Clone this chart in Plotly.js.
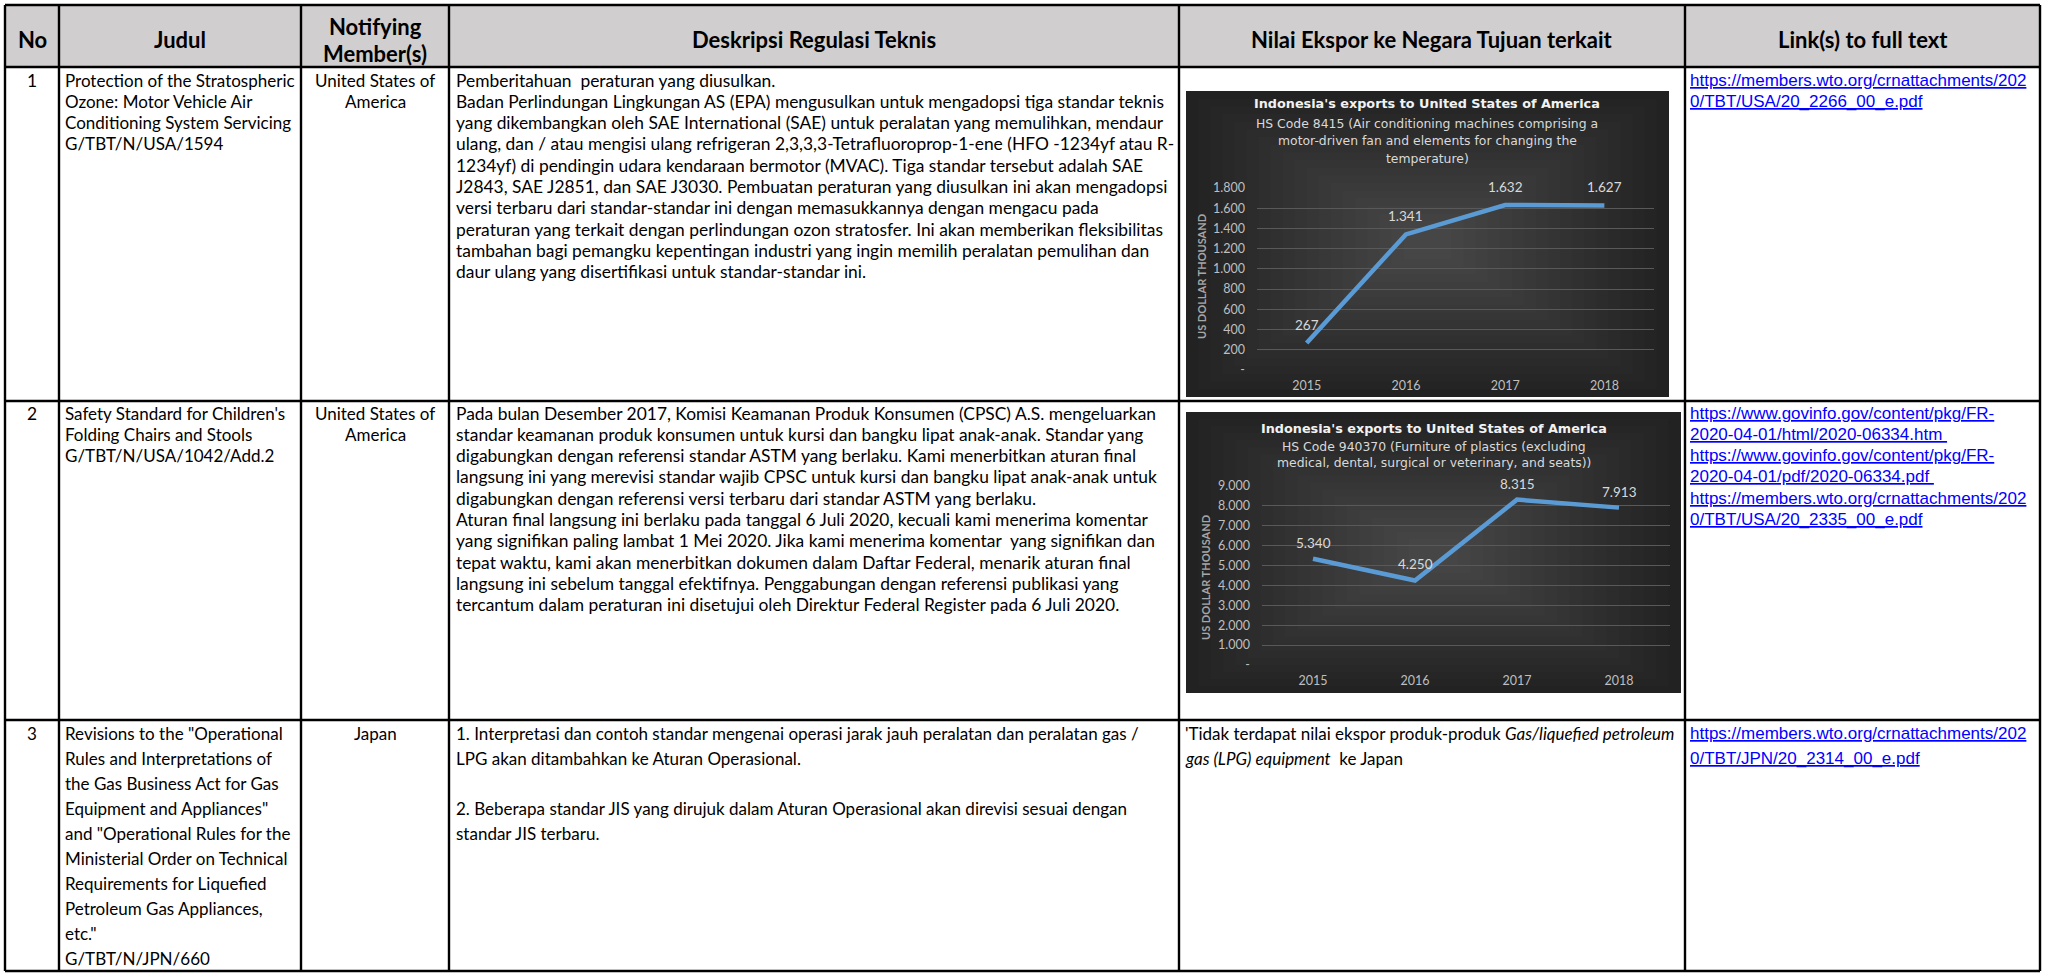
<!DOCTYPE html>
<html>
<head>
<meta charset="utf-8">
<script src="https://cdn.plot.ly/plotly-3.0.1.min.js"></script>
<style>
html,body{margin:0;padding:0;background:#ffffff;overflow:hidden}
#chart{width:2047px;height:973px}
</style>
</head>
<body>
<div id="chart"></div>
<script>
// ---------------- DATA ----------------
const years = ['2015', '2016', '2017', '2018'];
const exportsHS8415 = [267, 1341, 1632, 1627];
const exportsHS940370 = [5340, 4250, 8315, 7913];
const ticksHS8415 = [0, 200, 400, 600, 800, 1000, 1200, 1400, 1600, 1800];
const ticksHS940370 = [0, 1000, 2000, 3000, 4000, 5000, 6000, 7000, 8000, 9000];
const chartTitle = "Indonesia's exports to United States of America";
const subtitleHS8415 = [
  'HS Code 8415 (Air conditioning machines comprising a',
  'motor-driven fan and elements for changing the',
  'temperature)'
];
const subtitleHS940370 = [
  'HS Code 940370 (Furniture of plastics (excluding',
  'medical, dental, surgical or veterinary, and seats))'
];
const yAxisTitle = 'US DOLLAR THOUSAND';

const columnHeaders = [
  ['No'], ['Judul'], ['Notifying', 'Member(s)'],
  ['Deskripsi Regulasi Teknis'], ['Nilai Ekspor ke Negara Tujuan terkait'], ['Link(s) to full text']
];
const rowNumbers = ['1', '2', '3'];
const judul = [
  ['Protection of the Stratospheric', 'Ozone: Motor Vehicle Air', 'Conditioning System Servicing', 'G/TBT/N/USA/1594'],
  ["Safety Standard for Children's", 'Folding Chairs and Stools', 'G/TBT/N/USA/1042/Add.2'],
  ['Revisions to the "Operational', 'Rules and Interpretations of', 'the Gas Business Act for Gas',
   'Equipment and Appliances"', 'and "Operational Rules for the', 'Ministerial Order on Technical',
   'Requirements for Liquefied', 'Petroleum Gas Appliances,', 'etc."', 'G/TBT/N/JPN/660']
];
const notifyingMembers = [
  ['United States of', 'America'],
  ['United States of', 'America'],
  ['Japan']
];
const deskripsi = [
  ['Pemberitahuan\u00a0 peraturan yang diusulkan.',
   'Badan Perlindungan Lingkungan AS (EPA) mengusulkan untuk mengadopsi tiga standar teknis',
   'yang dikembangkan oleh SAE International (SAE) untuk peralatan yang memulihkan, mendaur',
   'ulang, dan / atau mengisi ulang refrigeran 2,3,3,3-Tetrafluoroprop-1-ene (HFO -1234yf atau R-',
   '1234yf) di pendingin udara kendaraan bermotor (MVAC). Tiga standar tersebut adalah SAE',
   'J2843, SAE J2851, dan SAE J3030. Pembuatan peraturan yang diusulkan ini akan mengadopsi',
   'versi terbaru dari standar-standar ini dengan memasukkannya dengan mengacu pada',
   'peraturan yang terkait dengan perlindungan ozon stratosfer. Ini akan memberikan fleksibilitas',
   'tambahan bagi pemangku kepentingan industri yang ingin memilih peralatan pemulihan dan',
   'daur ulang yang disertifikasi untuk standar-standar ini.'],
  ['Pada bulan Desember 2017, Komisi Keamanan Produk Konsumen (CPSC) A.S. mengeluarkan',
   'standar keamanan produk konsumen untuk kursi dan bangku lipat anak-anak. Standar yang',
   'digabungkan dengan referensi standar ASTM yang berlaku. Kami menerbitkan aturan final',
   'langsung ini yang merevisi standar wajib CPSC untuk kursi dan bangku lipat anak-anak untuk',
   'digabungkan dengan referensi versi terbaru dari standar ASTM yang berlaku.',
   'Aturan final langsung ini berlaku pada tanggal 6 Juli 2020, kecuali kami menerima komentar',
   'yang signifikan paling lambat 1 Mei 2020. Jika kami menerima komentar\u00a0 yang signifikan dan',
   'tepat waktu, kami akan menerbitkan dokumen dalam Daftar Federal, menarik aturan final',
   'langsung ini sebelum tanggal efektifnya. Penggabungan dengan referensi publikasi yang',
   'tercantum dalam peraturan ini disetujui oleh Direktur Federal Register pada 6 Juli 2020.'],
  ['1. Interpretasi dan contoh standar mengenai operasi jarak jauh peralatan dan peralatan gas /',
   'LPG akan ditambahkan ke Aturan Operasional.',
   '',
   '2. Beberapa standar JIS yang dirujuk dalam Aturan Operasional akan direvisi sesuai dengan',
   'standar JIS terbaru.']
];
const nilaiEksporText = [
  [],
  [],
  ["'Tidak terdapat nilai ekspor produk-produk <i>Gas/liquefied petroleum</i>",
   '<i>gas (LPG) equipment</i>\u00a0 ke Japan']
];
const links = [
  ['https://members.wto.org/crnattachments/202', '0/TBT/USA/20_2266_00_e.pdf'],
  ['https://www.govinfo.gov/content/pkg/FR-', '2020-04-01/html/2020-06334.htm\u00a0',
   'https://www.govinfo.gov/content/pkg/FR-', '2020-04-01/pdf/2020-06334.pdf\u00a0',
   'https://members.wto.org/crnattachments/202', '0/TBT/USA/20_2335_00_e.pdf'],
  ['https://members.wto.org/crnattachments/202', '0/TBT/JPN/20_2314_00_e.pdf']
];

// ---------------- GEOMETRY / STYLE ----------------
const W = 2047, H = 973;
const X = p => p / W;
const Y = p => 1 - p / H;
const colX = [5, 59, 301, 449, 1179, 1685, 2040];
const rowY = [5, 67, 401, 720, 971];
const firstLine = [80, 413, 733];
const lineStep = [21.3, 21.3, 25];
const descFont = [17.4, 17.4, 17];
const judulFont = [17, 17, 17];
const BODY = 'Lato, "Open Sans", sans-serif';
const LINKF = '"Liberation Sans", Arial, sans-serif';

const fmt = v => v === 0 ? '-' : String(v).replace(/\B(?=(\d{3})+(?!\d))/g, '.');

const annotations = [];
const shapes = [];

function label(x, y, text, o) {
  o = o || {};
  annotations.push({
    xref: 'paper', yref: 'paper', x: X(x), y: Y(y), text: text, showarrow: false,
    xanchor: o.xanchor || 'left', yanchor: 'middle', align: o.xanchor === 'center' ? 'center' : 'left',
    textangle: o.angle || 0,
    font: { family: o.family || BODY, size: o.size || 17, color: o.color || '#000000', weight: o.weight || 'normal' }
  });
}

// header background
shapes.push({ type: 'rect', xref: 'paper', yref: 'paper', layer: 'below',
  x0: X(colX[0]), x1: X(colX[6]), y0: Y(rowY[1]), y1: Y(rowY[0]),
  fillcolor: '#d0cece', line: { width: 0 } });

// chart backgrounds (dark, vignette)
function chartBg(x0, y0, x1, y1) {
  shapes.push({ type: 'rect', xref: 'paper', yref: 'paper', layer: 'below',
    x0: X(x0), x1: X(x1), y0: Y(y1), y1: Y(y0), fillcolor: '#222222', line: { width: 0 } });
  const hw = (x1 - x0) / 2, hh = (y1 - y0) / 2;
  for (let k = 1; k <= 18; k++) {
    const dx = hw * 0.05 * k, dy = hh * 0.05 * k;
    shapes.push({ type: 'rect', xref: 'paper', yref: 'paper', layer: 'below',
      x0: X(x0 + dx), x1: X(x1 - dx), y0: Y(y1 - dy), y1: Y(y0 + dy),
      fillcolor: 'rgba(255,255,255,0.0125)', line: { width: 0 } });
  }
}
chartBg(1186, 91, 1669, 397);
chartBg(1186, 412, 1681, 693);

// grid lines of the table
rowY.forEach(y => shapes.push({ type: 'line', xref: 'paper', yref: 'paper',
  x0: X(colX[0]), x1: X(colX[6]), y0: Y(y), y1: Y(y), line: { color: '#000', width: 2.6 } }));
colX.forEach(x => shapes.push({ type: 'line', xref: 'paper', yref: 'paper',
  x0: X(x), x1: X(x), y0: Y(rowY[0]), y1: Y(rowY[4]), line: { color: '#000', width: 2.4 } }));

// header texts
const hdrSize = 22;
columnHeaders.forEach((lines, c) => {
  const cx = (colX[c] + colX[c + 1]) / 2;
  if (lines.length === 1) label(cx, 39, lines[0], { xanchor: 'center', size: hdrSize, weight: 'bold' });
  else lines.forEach((t, i) => label(cx, 26 + i * 27, t, { xanchor: 'center', size: hdrSize, weight: 'bold' }));
});

// body texts
for (let r = 0; r < 3; r++) {
  const y0 = firstLine[r], st = lineStep[r];
  label((colX[0] + colX[1]) / 2, y0, rowNumbers[r], { xanchor: 'center', size: descFont[r] });
  judul[r].forEach((t, i) => label(colX[1] + 4, y0 + i * st, t, { size: judulFont[r] }));
  notifyingMembers[r].forEach((t, i) => label((colX[2] + colX[3]) / 2, y0 + i * st, t, { xanchor: 'center', size: judulFont[r] }));
  deskripsi[r].forEach((t, i) => { if (t) label(colX[3] + 5, y0 + i * st, t, { size: descFont[r] }); });
  nilaiEksporText[r].forEach((t, i) => label(colX[4] + 4, y0 + i * st, t, { size: descFont[r] }));
  links[r].forEach((t, i) => label(colX[5] + 3, y0 + i * st, '<u>' + t + '</u>',
    { family: LINKF, size: 17, color: '#0000ff' }));
}

// chart titles
const TF = '"DejaVu Sans", sans-serif';
label(1427, 104, chartTitle, { xanchor: 'center', family: TF, size: 12.8, weight: 'bold', color: '#f2f2f2' });
subtitleHS8415.forEach((t, i) => label(1427, 123 + i * 17.5, t, { xanchor: 'center', family: TF, size: 12.4, color: '#d9d9d9' }));
label(1434, 428, chartTitle, { xanchor: 'center', family: TF, size: 12.8, weight: 'bold', color: '#f2f2f2' });
subtitleHS940370.forEach((t, i) => label(1434, 446 + i * 16.5, t, { xanchor: 'center', family: TF, size: 12.4, color: '#d9d9d9' }));
label(1201, 277, yAxisTitle, { xanchor: 'center', angle: -90, size: 11, weight: 'bold', color: '#a6a6a6' });
label(1205, 578, yAxisTitle, { xanchor: 'center', angle: -90, size: 11, weight: 'bold', color: '#a6a6a6' });

// data labels placed through the charts' own axes (category index, value)
years.forEach((yr, i) => {
  annotations.push({ xref: 'x', yref: 'y', x: i, y: exportsHS8415[i], text: fmt(exportsHS8415[i]),
    showarrow: false, yshift: 18, font: { family: BODY, size: 13.5, color: '#d9d9d9' } });
  annotations.push({ xref: 'x2', yref: 'y2', x: i, y: exportsHS940370[i], text: fmt(exportsHS940370[i]),
    showarrow: false, yshift: 16, font: { family: BODY, size: 13.5, color: '#d9d9d9' } });
});

const tickFont = { family: BODY, size: 12.5, color: '#bfbfbf' };
function xAxis(d) {
  return { domain: d, type: 'category', range: [-0.5, 3.5], showgrid: false, zeroline: false,
    showline: false, ticks: '', tickfont: tickFont, ticklabelstandoff: 6, fixedrange: true };
}
function yAxis(d, ticks) {
  return { domain: d, range: [0, ticks[ticks.length - 1]], tickvals: ticks, ticktext: ticks.map(fmt),
    showgrid: true, gridcolor: '#595959', gridwidth: 1, zeroline: false, showline: false, ticks: '',
    tickfont: tickFont, ticklabelstandoff: 11, fixedrange: true };
}

const traces = [
  { type: 'scatter', mode: 'lines', x: years, y: exportsHS8415, xaxis: 'x', yaxis: 'y',
    line: { color: '#5b9bd5', width: 4.5 }, hoverinfo: 'skip', showlegend: false, cliponaxis: false },
  { type: 'scatter', mode: 'lines', x: years, y: exportsHS940370, xaxis: 'x2', yaxis: 'y2',
    line: { color: '#5b9bd5', width: 4.5 }, hoverinfo: 'skip', showlegend: false, cliponaxis: false }
];

const layout = {
  width: W, height: H, autosize: false,
  margin: { l: 0, r: 0, t: 0, b: 0, pad: 0 },
  paper_bgcolor: '#ffffff', plot_bgcolor: 'rgba(0,0,0,0)',
  showlegend: false,
  xaxis: Object.assign(xAxis([X(1257), X(1654)]), { anchor: 'y' }),
  yaxis: Object.assign(yAxis([Y(370), Y(188)], ticksHS8415), { anchor: 'x' }),
  xaxis2: Object.assign(xAxis([X(1262), X(1670)]), { anchor: 'y2' }),
  yaxis2: Object.assign(yAxis([Y(665), Y(486)], ticksHS940370), { anchor: 'x2' }),
  shapes: shapes,
  annotations: annotations
};

Plotly.newPlot('chart', traces, layout, { displayModeBar: false, staticPlot: true });
</script>
</body>
</html>
